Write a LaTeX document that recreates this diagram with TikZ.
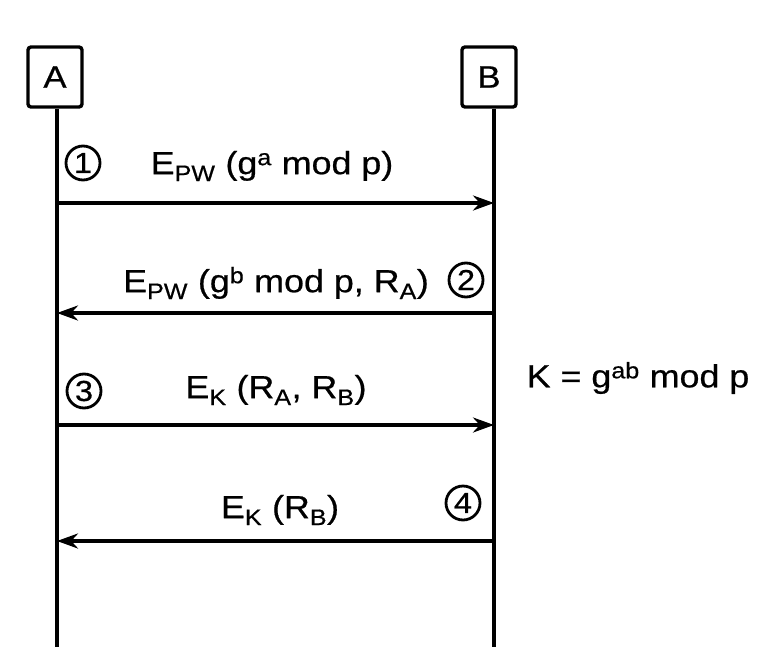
\documentclass[tikz,border=0pt]{standalone}
\usepackage{fontspec}
\setmainfont{Liberation Sans}[FakeStretch=1.12, FakeBold=0.6]
\usetikzlibrary{arrows.meta, positioning}

\begin{document}
\begin{tikzpicture}[
  x=1pt, y=-1pt,
  party/.style={draw, line width=3.4pt, rounded corners=3pt, minimum width=54pt,
                minimum height=60pt, font=\fontsize{31}{33}\selectfont},
  life/.style={line width=3.4pt},
  msg/.style={-{Stealth[length=21pt, width=15pt]}, line width=3.4pt},
  lbl/.style={font=\fontsize{32}{34}\selectfont, inner sep=0pt},
  num/.style={draw, circle, line width=2.8pt, minimum size=34pt, inner sep=0pt,
              font=\fontsize{29}{30}\selectfont}
]
\useasboundingbox (0,0) rectangle (771,664);

% parties and lifelines
\node[party] (A) at (55,77) {A};
\node[party] (B) at (489,77) {B};
\coordinate (Aend) at (57,647);
\coordinate (Bend) at (494,647);
\draw[life] (A.south -| Aend) -- (Aend);
\draw[life] (B.south -| Bend) -- (Bend);

% message points on the lifelines
\coordinate (a1) at (57,203);  \coordinate (b1) at (494,203);
\coordinate (a2) at (57,313);  \coordinate (b2) at (494,313);
\coordinate (a3) at (57,425);  \coordinate (b3) at (494,425);
\coordinate (a4) at (57,541);  \coordinate (b4) at (494,541);

\draw[msg] (a1) -- (b1);
\draw[msg] (b2) -- (a2);
\draw[msg] (a3) -- (b3);
\draw[msg] (b4) -- (a4);

% labels
\node[lbl] (m1) at (272,166) {E\textsubscript{PW} (g\textsuperscript{a} mod p)};
\node[lbl] (m2) at (276,283) {E\textsubscript{PW} (g\textsuperscript{b} mod p, R\textsubscript{A})};
\node[lbl] (m3) at (276,390) {E\textsubscript{K} (R\textsubscript{A}, R\textsubscript{B})};
\node[lbl] (m4) at (280,510) {E\textsubscript{K} (R\textsubscript{B})};

\node[num] (n1) at (83,163) {1};
\node[num] (n2) at (466,280) {2};
\node[num] (n3) at (84,391) {3};
\node[num] (n4) at (463,503) {4};

\node[lbl] (key) at (638,378) {K = g\textsuperscript{ab} mod p};
\end{tikzpicture}
\end{document}
